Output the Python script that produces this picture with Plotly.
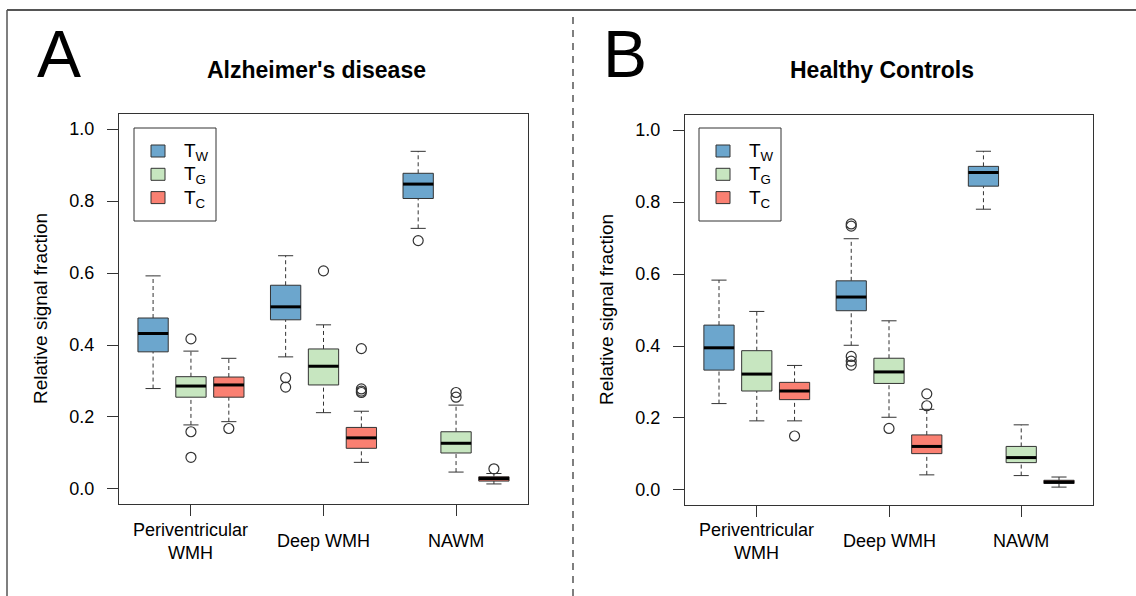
import plotly.graph_objects as go

# ---------------- data ----------------
categories = ["Periventricular<br>WMH", "Deep WMH", "NAWM"]
series_names = ["T<sub>W</sub>", "T<sub>G</sub>", "T<sub>C</sub>"]
series_colors = ["#6CA6CD", "#C7E6C0", "#FA8072"]
panel_titles = ["Alzheimer's disease", "Healthy Controls"]
panel_letters = ["A", "B"]
y_ticks = [0.0, 0.2, 0.4, 0.6, 0.8, 1.0]

# Alzheimer's disease: [series][category]
ad_low = [[0.279, 0.367, 0.724], [0.178, 0.212, 0.047], [0.187, 0.074, 0.014]]
ad_q1 = [[0.381, 0.470, 0.807], [0.255, 0.289, 0.100], [0.255, 0.113, 0.022]]
ad_med = [[0.432, 0.506, 0.847], [0.286, 0.341, 0.127], [0.289, 0.142, 0.029]]
ad_q3 = [[0.475, 0.566, 0.877], [0.312, 0.389, 0.159], [0.311, 0.171, 0.034]]
ad_high = [[0.592, 0.648, 0.938], [0.383, 0.456, 0.233], [0.363, 0.216, 0.043]]
ad_out = [
    [[], [0.309, 0.283], [0.690]],
    [[0.417, 0.159, 0.088], [0.606], [0.268, 0.255]],
    [[0.168], [0.390, 0.278, 0.272, 0.268], [0.056]],
]

# Healthy controls: [series][category]
hc_low = [[0.240, 0.402, 0.780], [0.192, 0.202, 0.040], [0.192, 0.042, 0.008]]
hc_q1 = [[0.333, 0.498, 0.844], [0.275, 0.296, 0.076], [0.251, 0.101, 0.018]]
hc_med = [[0.395, 0.536, 0.882], [0.322, 0.328, 0.090], [0.275, 0.121, 0.022]]
hc_q3 = [[0.458, 0.581, 0.899], [0.387, 0.366, 0.121], [0.299, 0.153, 0.027]]
hc_high = [[0.583, 0.698, 0.941], [0.496, 0.470, 0.181], [0.346, 0.224, 0.036]]
hc_out = [
    [[], [0.739, 0.733, 0.371, 0.358, 0.347], []],
    [[], [0.171], []],
    [[0.150], [0.267, 0.234], []],
]

panels = [
    (ad_low, ad_q1, ad_med, ad_q3, ad_high, ad_out),
    (hc_low, hc_q1, hc_med, hc_q3, hc_high, hc_out),
]

# ---------------- layout constants ----------------
W, H = 1136, 596
FONT = "Liberation Sans, Arial, Helvetica, sans-serif"
EDGE = "#333333"
BOX_HALF = 0.4
CAP_HALF = 0.2
GROUP_STEP = 3.5


def xpos(ci, si):
    return 1 + ci * GROUP_STEP + si


tick_pos = [xpos(ci, 1) for ci in range(len(categories))]

# pixel boxes of the two plot regions (left, right, top, bottom)
plot_px = [(119, 528, 114, 504), (685, 1093, 115, 505)]
# legend boxes (left, top, right, bottom)
legend_px = [(134, 128, 216, 221), (699, 128, 781, 221)]
LEG_ROW0, LEG_ROW_STEP = 23, 23.3   # first row centre offset, row step
LEG_KEY_CX, LEG_TEXT_X = 24, 48     # offsets from legend left


def px(x):
    return x / W


def py(y):
    return (H - y) / H


fig = go.Figure()

for p, (lo, q1, md, q3, hi, outs) in enumerate(panels):
    xa = "x" if p == 0 else "x2"
    ya = "y" if p == 0 else "y2"

    wx, wy = [], []
    cx, cy = [], []
    mx, my = [], []
    ox, oy = [], []
    for si in range(len(series_names)):
        for ci in range(len(categories)):
            x0 = xpos(ci, si)
            wx += [x0, x0, None, x0, x0, None]
            wy += [q3[si][ci], hi[si][ci], None, lo[si][ci], q1[si][ci], None]
            cx += [x0 - CAP_HALF, x0 + CAP_HALF, None, x0 - CAP_HALF, x0 + CAP_HALF, None]
            cy += [hi[si][ci], hi[si][ci], None, lo[si][ci], lo[si][ci], None]
            mx += [x0 - BOX_HALF, x0 + BOX_HALF, None]
            my += [md[si][ci], md[si][ci], None]
            for v in outs[si][ci]:
                ox.append(x0)
                oy.append(v)
    # whiskers (dashed) and caps
    fig.add_trace(go.Scatter(x=wx, y=wy, mode="lines", xaxis=xa, yaxis=ya,
                             line=dict(color=EDGE, width=1, dash="4px,3px"),
                             showlegend=False, hoverinfo="skip"))
    fig.add_trace(go.Scatter(x=cx, y=cy, mode="lines", xaxis=xa, yaxis=ya,
                             line=dict(color=EDGE, width=1),
                             showlegend=False, hoverinfo="skip"))
    # boxes
    for si in range(len(series_names)):
        bx, by = [], []
        for ci in range(len(categories)):
            x0 = xpos(ci, si)
            bx += [x0 - BOX_HALF, x0 + BOX_HALF, x0 + BOX_HALF, x0 - BOX_HALF, x0 - BOX_HALF, None]
            by += [q1[si][ci], q1[si][ci], q3[si][ci], q3[si][ci], q1[si][ci], None]
        fig.add_trace(go.Scatter(x=bx, y=by, mode="lines", fill="toself",
                                 fillcolor=series_colors[si], xaxis=xa, yaxis=ya,
                                 line=dict(color=EDGE, width=1), name=series_names[si],
                                 showlegend=False, hoverinfo="skip"))
    # medians
    fig.add_trace(go.Scatter(x=mx, y=my, mode="lines", xaxis=xa, yaxis=ya,
                             line=dict(color="black", width=3),
                             showlegend=False, hoverinfo="skip"))
    # outliers
    fig.add_trace(go.Scatter(x=ox, y=oy, mode="markers", xaxis=xa, yaxis=ya,
                             marker=dict(symbol="circle-open", size=10,
                                         color=EDGE, line=dict(width=1.2)),
                             showlegend=False, hoverinfo="skip"))

axis_common = dict(showgrid=False, zeroline=False, showline=True, mirror=True,
                   linecolor=EDGE, linewidth=1, ticks="outside", ticklen=11,
                   tickcolor=EDGE, tickwidth=1,
                   tickfont=dict(family=FONT, size=18, color="black"))

layout = dict(
    width=W, height=H, margin=dict(l=0, r=0, t=0, b=0),
    paper_bgcolor="white", plot_bgcolor="white",
    font=dict(family=FONT, color="black"), showlegend=False,
)
annotations = []
shapes = []
for p in range(2):
    l, r, t, b = plot_px[p]
    sfx = "" if p == 0 else "2"
    layout["xaxis" + sfx] = dict(axis_common, domain=[px(l), px(r)], range=[0.1, 10.9],
                                 tickvals=tick_pos, showticklabels=False,
                                 anchor="y" + sfx)
    layout["yaxis" + sfx] = dict(axis_common, domain=[py(b), py(t)],
                                 range=[-0.0417, 1.0417], tickvals=y_ticks,
                                 tickformat=".1f", ticklabelstandoff=9,
                                 anchor="x" + sfx)
    # legend (frame, keys, labels)
    ll, lt, lr, lb = legend_px[p]
    shapes.append(dict(type="rect", xref="paper", yref="paper",
                       x0=px(ll), x1=px(lr), y0=py(lb), y1=py(lt),
                       line=dict(color=EDGE, width=1), fillcolor="white", layer="above"))
    for si, name in enumerate(series_names):
        cyy = lt + LEG_ROW0 + si * LEG_ROW_STEP
        kx = ll + LEG_KEY_CX
        shapes.append(dict(type="rect", xref="paper", yref="paper",
                           x0=px(kx - 7), x1=px(kx + 7), y0=py(cyy + 6), y1=py(cyy - 6),
                           line=dict(color=EDGE, width=1), fillcolor=series_colors[si],
                           layer="above"))
        annotations.append(dict(text=name, x=px(ll + LEG_TEXT_X), y=py(cyy + 1),
                                xref="paper", yref="paper", showarrow=False,
                                xanchor="left", yanchor="middle",
                                font=dict(family=FONT, size=19, color="black")))
    # category labels
    for ci, cat in enumerate(categories):
        annotations.append(dict(text=cat, x=tick_pos[ci], xref="x" + sfx,
                                y=py(541), yref="paper", showarrow=False,
                                xanchor="center", yanchor="middle",
                                font=dict(family=FONT, size=18, color="black")))
    # panel title
    annotations.append(dict(text="<b>" + panel_titles[p] + "</b>",
                            x=px((l + r) / 2 - 7), y=py(70),
                            xref="paper", yref="paper", showarrow=False,
                            xanchor="center", yanchor="middle",
                            font=dict(family=FONT, size=23, color="black")))
    # panel letter
    annotations.append(dict(text=panel_letters[p], x=px(l - 60), y=py(54),
                            xref="paper", yref="paper", showarrow=False,
                            xanchor="center", yanchor="middle",
                            font=dict(family=FONT, size=66, color="black")))
    # y label
    annotations.append(dict(text="Relative signal fraction", x=px(l - 79),
                            y=py((t + b) / 2), xref="paper", yref="paper",
                            showarrow=False, textangle=-90,
                            xanchor="center", yanchor="middle",
                            font=dict(family=FONT, size=19, color="black")))

# outer frame lines and dashed separator
shapes.append(dict(type="line", xref="paper", yref="paper", x0=px(7), x1=1,
                   y0=py(10), y1=py(10), line=dict(color="#555555", width=2)))
shapes.append(dict(type="line", xref="paper", yref="paper", x0=px(7), x1=px(7),
                   y0=0, y1=py(10), line=dict(color="#555555", width=1.5)))
shapes.append(dict(type="line", xref="paper", yref="paper", x0=px(573), x1=px(573),
                   y0=0, y1=py(10),
                   line=dict(color="#555555", width=1.5, dash="7px,6px")))

layout["annotations"] = annotations
layout["shapes"] = shapes
fig.update_layout(**layout)

fig.write_html("out.html", config={"displayModeBar": False},
               post_script="document.body.style.margin='0';document.body.style.overflow='hidden';")
